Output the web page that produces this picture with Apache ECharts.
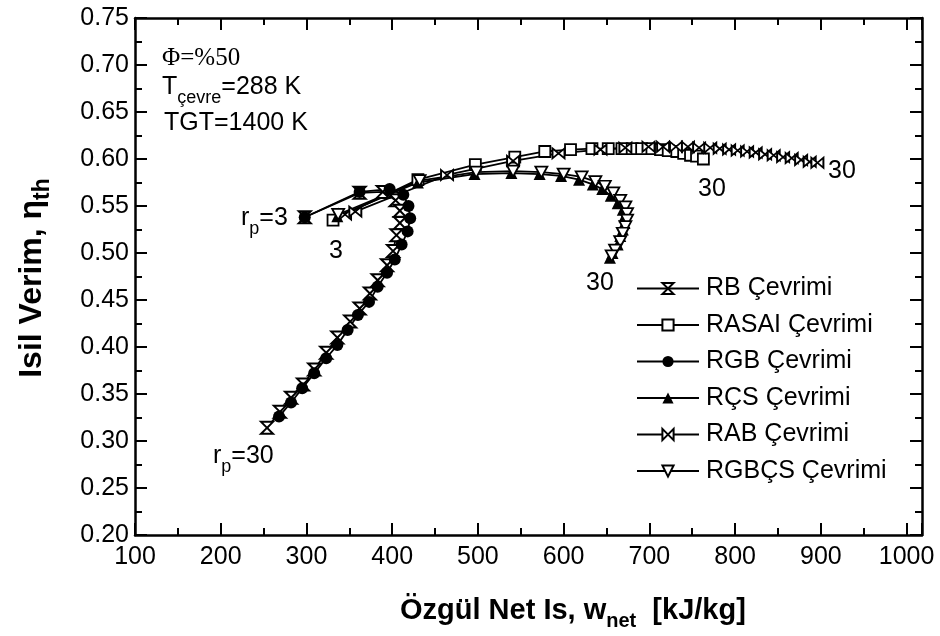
<!DOCTYPE html>
<html><head><meta charset="utf-8">
<script src="https://cdn.jsdelivr.net/npm/echarts@6/dist/echarts.min.js"></script>
<style>html,body{margin:0;padding:0;background:#fff}#c{width:940px;height:636px}</style>
</head><body><div id="c"></div>
<script>
// ---- data (x: specific net work kJ/kg, y: thermal efficiency) ----
const seriesNames = ['RB Çevrimi','RASAI Çevrimi','RGB Çevrimi','RÇS Çevrimi','RAB Çevrimi','RGBÇS Çevrimi'];
const rbData = [[298,0.538],[362,0.564],[389,0.565],[404,0.556],[409,0.545],[409,0.532],[405,0.519],[401,0.502],[394,0.487],[383,0.471],[374,0.457],[362,0.441],[351,0.427],[336,0.410],[323,0.394],[309,0.376],[296,0.360],[282,0.346],[269,0.331],[254,0.314]];
const rasaiData = [[331,0.535],[430,0.578],[497,0.594],[543,0.602],[578,0.608],[608,0.610],[633,0.611],[652,0.611],[668,0.611],[680,0.611],[691,0.611],[703,0.611],[713,0.610],[722,0.609],[732,0.608],[740,0.606],[748,0.604],[755,0.603],[763,0.600]];
const rgbData = [[298,0.538],[362,0.565],[397,0.568],[413,0.562],[419,0.550],[421,0.537],[418,0.523],[411,0.509],[403,0.493],[394,0.479],[383,0.464],[373,0.448],[360,0.434],[348,0.418],[336,0.402],[323,0.388],[309,0.372],[295,0.356],[282,0.341],[268,0.326]];
const rcsData = [[336,0.539],[430,0.575],[496,0.584],[539,0.585],[572,0.584],[597,0.582],[618,0.578],[634,0.573],[645,0.568],[655,0.561],[663,0.553],[669,0.546],[671,0.539],[671,0.532],[669,0.525],[666,0.518],[663,0.509],[657,0.500],[654,0.495]];
const rabData = [[345,0.541],[357,0.544],[464,0.583],[541,0.598],[594,0.606],[643,0.610],[672,0.612],[699,0.613],[716,0.613],[731,0.613],[745,0.613],[758,0.612],[771,0.612],[782,0.611],[793,0.610],[803,0.609],[814,0.608],[824,0.607],[835,0.605],[845,0.604],[856,0.602],[866,0.601],[877,0.599],[887,0.597],[896,0.596]];
const rgbcsData = [[337,0.541],[432,0.577],[498,0.586],[541,0.587],[574,0.586],[600,0.584],[621,0.581],[637,0.576],[648,0.571],[658,0.564],[666,0.556],[672,0.549],[674,0.542],[674,0.535],[672,0.528],[669,0.521],[666,0.512],[660,0.503],[656,0.497]];
const xMin = 100, xMax = 1018, xStep = 100;
const yMin = 0.20, yMax = 0.75, yStep = 0.05;

const FONT = '"Liberation Sans", Arial, sans-serif';
const SERIF = '"Liberation Serif", "Times New Roman", serif';
const chart = echarts.init(document.getElementById('c'));

const gridRect = {left:135, right:18, top:18, bottom:101};
function xAx(grid, pos, step, len, labels, line) {
  return {type:'value', gridIndex:grid, position:pos, min:xMin, max:xMax, interval:step,
    axisLine:{show:line, onZero:false, lineStyle:{color:'#000', width:2.5}},
    axisTick:{show:true, inside:true, length:len, lineStyle:{color:'#000', width:2}},
    axisLabel:{show:labels, margin:10, color:'#000', fontSize:25, fontFamily:FONT,
      formatter:v => (Math.abs(v % 100) < 1e-6 ? String(v) : '')},
    splitLine:{show:false}};
}
function yAx(grid, pos, step, len, labels, line) {
  return {type:'value', gridIndex:grid, position:pos, min:yMin, max:yMax, interval:step,
    axisLine:{show:line, onZero:false, lineStyle:{color:'#000', width:2.5}},
    axisTick:{show:true, inside:true, length:len, lineStyle:{color:'#000', width:2}},
    axisLabel:{show:labels, margin:6, color:'#000', fontSize:25, fontFamily:FONT,
      formatter:v => (Math.round(v*1000) % 50 === 0 ? v.toFixed(2) : '')},
    splitLine:{show:false}};
}
function ser(name, data, symbol, size, fill, bw) {
  return {name, type:'line', data, xAxisIndex:0, yAxisIndex:0, symbol, symbolSize:size,
    lineStyle:{color:'#000', width:1.8},
    itemStyle:{color:fill, borderColor:'#000', borderWidth:bw},
    emphasis:{disabled:true}, silent:true, z:3};
}
const HOURGLASS = 'path://M0,0L10,0L0,10L10,10Z';
const BOWTIE = 'path://M0,0L10,10L10,0L0,10Z';
const TRI_DOWN = 'path://M0,0L10,0L5,9Z';

const option = {
  animation:false,
  backgroundColor:'#fff',
  grid:[Object.assign({}, gridRect), Object.assign({}, gridRect)],
  xAxis:[xAx(0,'bottom',xStep/2,7,true,true), xAx(0,'top',xStep/2,7,false,true),
         xAx(1,'bottom',xStep,12,false,false), xAx(1,'top',xStep,12,false,false)],
  yAxis:[yAx(0,'left',yStep/2,7,true,true), yAx(0,'right',yStep/2,7,false,true),
         yAx(1,'left',yStep,12,false,false), yAx(1,'right',yStep,12,false,false)],
  legend:{data:seriesNames, orient:'vertical', left:636, top:276, padding:0, itemWidth:62, itemHeight:14, itemGap:11.5,
    selectedMode:false, textStyle:{fontSize:25, color:'#000', fontFamily:FONT, padding:[0,0,0,2]}},
  series:[
    ser(seriesNames[0], rbData, HOURGLASS, [12,12], '#fff', 2),
    ser(seriesNames[1], rasaiData, 'rect', 11, '#fff', 1.8),
    ser(seriesNames[2], rgbData, 'circle', 12, '#000', 0),
    ser(seriesNames[3], rcsData, 'triangle', 12, '#000', 0),
    ser(seriesNames[4], rabData, BOWTIE, [12,10], '#fff', 1.8),
    ser(seriesNames[5], rgbcsData, TRI_DOWN, [12,11], '#fff', 1.8)
  ],
  graphic:[
    {type:'text', x:162, y:58, style:{text:'Φ=%50', font:'25px '+SERIF, fill:'#000', verticalAlign:'middle'}},
    {type:'text', x:162, y:72, style:{text:'{a|T}{b|çevre}{a|=288 K}', verticalAlign:'top', fill:'#000',
      rich:{a:{font:'25px '+FONT, lineHeight:30}, b:{font:'18px '+FONT, lineHeight:30, padding:[22,0,0,0]}}}},
    {type:'text', x:164, y:123, style:{text:'TGT=1400 K', font:'25px '+FONT, fill:'#000', verticalAlign:'middle'}},
    {type:'text', x:241, y:203, style:{text:'{a|r}{b|p}{a|=3}', verticalAlign:'top', fill:'#000',
      rich:{a:{font:'25px '+FONT, lineHeight:30}, b:{font:'18px '+FONT, lineHeight:30, padding:[22,0,0,0]}}}},
    {type:'text', x:336, y:251, style:{text:'3', font:'25px '+FONT, fill:'#000', align:'center', verticalAlign:'middle'}},
    {type:'text', x:213, y:441, style:{text:'{a|r}{b|p}{a|=30}', verticalAlign:'top', fill:'#000',
      rich:{a:{font:'25px '+FONT, lineHeight:30}, b:{font:'18px '+FONT, lineHeight:30, padding:[22,0,0,0]}}}},
    {type:'text', x:600, y:283, style:{text:'30', font:'25px '+FONT, fill:'#000', align:'center', verticalAlign:'middle'}},
    {type:'text', x:712, y:189, style:{text:'30', font:'25px '+FONT, fill:'#000', align:'center', verticalAlign:'middle'}},
    {type:'text', x:828, y:171, style:{text:'30', font:'25px '+FONT, fill:'#000', align:'left', verticalAlign:'middle'}},
    {type:'text', x:400, y:595, style:{text:'{a|Özgül Net Is, w}{b|net}{a|  [kJ/kg]}', verticalAlign:'top', fill:'#000',
      rich:{a:{font:'bold 29px '+FONT, lineHeight:32}, b:{font:'bold 20px '+FONT, lineHeight:32, padding:[20,0,0,0]}}}},
    {type:'text', x:32, y:278, rotation:Math.PI/2, style:{text:'{a|Isil Verim, η}{b|th}', align:'center', verticalAlign:'middle', fill:'#000',
      rich:{a:{font:'bold 32px '+FONT, lineHeight:36}, b:{font:'bold 23px '+FONT, lineHeight:36, padding:[22,0,0,0]}}}}
  ]
};
chart.setOption(option);
</script></body></html>
